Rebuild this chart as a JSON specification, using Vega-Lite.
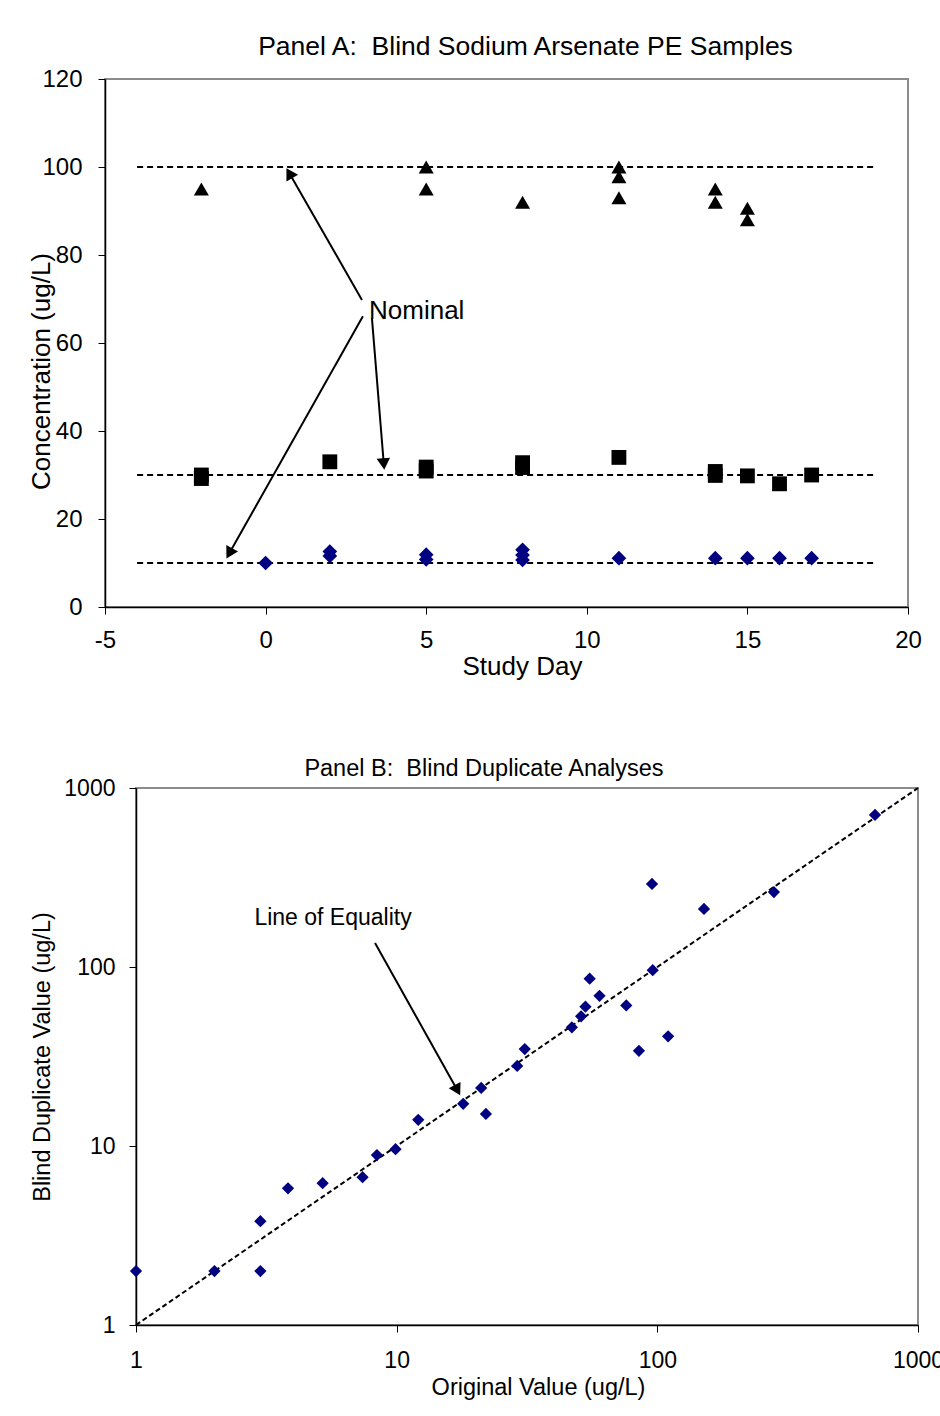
{
  "$schema": "https://vega.github.io/schema/vega-lite/v6.json",
  "background": "white",
  "padding": {"left": 27, "top": 32, "right": 0, "bottom": 0},
  "config": {
    "font": "Liberation Sans",
    "view": {"stroke": "#8c8c8c", "strokeWidth": 2},
    "axis": {"grid": false, "domainColor": "black", "domainWidth": 1.5, "tickColor": "black", "tickWidth": 1, "tickSize": 7, "labelColor": "black", "titleColor": "black", "titleFontWeight": "normal", "labelFont": "Liberation Sans", "titleFont": "Liberation Sans", "labelFlush": false, "labelOverlap": false},
    "title": {"fontWeight": "normal", "color": "black", "font": "Liberation Sans", "anchor": "middle"}
  },
  "datasets": {
    "pe": [
      {"day": -2, "conc": 95, "level": "High"},
      {"day": 5, "conc": 100, "level": "High"},
      {"day": 5, "conc": 95, "level": "High"},
      {"day": 8, "conc": 92, "level": "High"},
      {"day": 11, "conc": 100, "level": "High"},
      {"day": 11, "conc": 97.8, "level": "High"},
      {"day": 11, "conc": 93, "level": "High"},
      {"day": 14, "conc": 95, "level": "High"},
      {"day": 14, "conc": 92, "level": "High"},
      {"day": 15, "conc": 90.6, "level": "High"},
      {"day": 15, "conc": 88, "level": "High"},
      {"day": -2, "conc": 30, "level": "Mid"},
      {"day": -2, "conc": 29.2, "level": "Mid"},
      {"day": 2, "conc": 33, "level": "Mid"},
      {"day": 5, "conc": 31.8, "level": "Mid"},
      {"day": 5, "conc": 30.9, "level": "Mid"},
      {"day": 8, "conc": 32.8, "level": "Mid"},
      {"day": 8, "conc": 31.7, "level": "Mid"},
      {"day": 11, "conc": 34, "level": "Mid"},
      {"day": 14, "conc": 30.8, "level": "Mid"},
      {"day": 14, "conc": 29.9, "level": "Mid"},
      {"day": 15, "conc": 29.8, "level": "Mid"},
      {"day": 16, "conc": 28, "level": "Mid"},
      {"day": 17, "conc": 30, "level": "Mid"},
      {"day": 0, "conc": 10, "level": "Low"},
      {"day": 2, "conc": 12.6, "level": "Low"},
      {"day": 2, "conc": 11.6, "level": "Low"},
      {"day": 5, "conc": 11.9, "level": "Low"},
      {"day": 5, "conc": 10.8, "level": "Low"},
      {"day": 8, "conc": 13, "level": "Low"},
      {"day": 8, "conc": 11.8, "level": "Low"},
      {"day": 8, "conc": 10.7, "level": "Low"},
      {"day": 11, "conc": 11.1, "level": "Low"},
      {"day": 14, "conc": 11.1, "level": "Low"},
      {"day": 15, "conc": 11.1, "level": "Low"},
      {"day": 16, "conc": 11.1, "level": "Low"},
      {"day": 17, "conc": 11.1, "level": "Low"}
    ],
    "nominal": [
      {"x1": -4, "x2": 19, "nominal": 100},
      {"x1": -4, "x2": 19, "nominal": 30},
      {"x1": -4, "x2": 19, "nominal": 10}
    ],
    "arrowsA": [
      {"xs": 3.0, "ys": 69.8, "xe": 0.74, "ye": 98.6, "angle": 330},
      {"xs": 3.03, "ys": 66.1, "xe": -1.13, "ye": 12.2, "angle": 209.4},
      {"xs": 3.31, "ys": 65.7, "xe": 3.68, "ye": 32.5, "angle": 175.4}
    ],
    "labelA": [{"x": 3.22, "y": 67.3, "text": "Nominal"}],
    "dup": [
      {"orig": 1, "dup": 2.0},
      {"orig": 2.0, "dup": 2.0},
      {"orig": 3.0, "dup": 2.0},
      {"orig": 3.0, "dup": 3.8},
      {"orig": 3.83, "dup": 5.8},
      {"orig": 5.2, "dup": 6.2},
      {"orig": 7.4, "dup": 6.7},
      {"orig": 8.4, "dup": 8.9},
      {"orig": 9.9, "dup": 9.6},
      {"orig": 12.1, "dup": 14.0},
      {"orig": 18, "dup": 17.2},
      {"orig": 21.1, "dup": 21.1},
      {"orig": 22, "dup": 15.1},
      {"orig": 29, "dup": 28},
      {"orig": 31, "dup": 34.8},
      {"orig": 47, "dup": 46},
      {"orig": 51, "dup": 53},
      {"orig": 53, "dup": 60},
      {"orig": 55, "dup": 86},
      {"orig": 60, "dup": 69},
      {"orig": 76, "dup": 61},
      {"orig": 85, "dup": 34},
      {"orig": 95.4, "dup": 291},
      {"orig": 96, "dup": 96},
      {"orig": 110, "dup": 41},
      {"orig": 151, "dup": 211},
      {"orig": 280, "dup": 262},
      {"orig": 684, "dup": 707}
    ],
    "equality": [{"x1": 1, "y1": 1, "x2": 1000, "y2": 1000}],
    "arrowB": [{"xs": 8.26, "ys": 136, "xe": 17.1, "ye": 20.5, "angle": 151.4}],
    "labelB": [{"x": 5.7, "y": 188, "text": "Line of Equality"}]
  },
  "vconcat": [
    {
      "width": 803,
      "height": 528,
      "title": {"text": "Panel A:\u00a0 Blind Sodium Arsenate PE Samples", "fontSize": 26.5, "offset": 7, "dx": 19},
      "layer": [
        {
          "data": {"name": "nominal"},
          "mark": {"type": "rule", "strokeDash": [6, 4], "strokeWidth": 2, "color": "black"},
          "encoding": {
            "x": {"field": "x1", "type": "quantitative", "scale": {"domain": [-5, 20], "nice": false, "zero": false},
              "axis": {"title": "Study Day", "values": [-5, 0, 5, 10, 15, 20], "labelExpr": "'' + datum.value", "labelFontSize": 24, "titleFontSize": 26, "labelPadding": 14, "titlePadding": 1, "titleX": 417}},
            "x2": {"field": "x2"},
            "y": {"field": "nominal", "type": "quantitative", "scale": {"domain": [0, 120], "nice": false},
              "axis": {"title": "Concentration (ug/L)", "values": [0, 20, 40, 60, 80, 100, 120], "labelFontSize": 24, "titleFontSize": 26, "labelPadding": 16, "titlePadding": -13, "titleY": 292}}
          }
        },
        {
          "data": {"name": "pe"},
          "mark": {"type": "point", "filled": true, "opacity": 1, "strokeWidth": 0},
          "encoding": {
            "x": {"field": "day", "type": "quantitative"},
            "y": {"field": "conc", "type": "quantitative"},
            "shape": {"field": "level", "type": "nominal", "scale": {"domain": ["High", "Mid", "Low"], "range": ["triangle-up", "square", "diamond"]}, "legend": null},
            "color": {"field": "level", "type": "nominal", "scale": {"domain": ["High", "Mid", "Low"], "range": ["#000000", "#000000", "#000080"]}, "legend": null},
            "size": {"field": "level", "type": "nominal", "scale": {"domain": ["High", "Mid", "Low"], "range": [225, 216, 210]}, "legend": null}
          }
        },
        {
          "data": {"name": "arrowsA"},
          "mark": {"type": "rule", "strokeWidth": 2, "color": "black"},
          "encoding": {
            "x": {"field": "xs", "type": "quantitative"},
            "y": {"field": "ys", "type": "quantitative"},
            "x2": {"field": "xe"},
            "y2": {"field": "ye"}
          }
        },
        {
          "data": {"name": "arrowsA"},
          "mark": {"type": "point", "shape": "triangle-up", "filled": true, "opacity": 1, "size": 180, "color": "black", "strokeWidth": 0},
          "encoding": {
            "x": {"field": "xe", "type": "quantitative"},
            "y": {"field": "ye", "type": "quantitative"},
            "angle": {"field": "angle", "type": "quantitative", "scale": null}
          }
        },
        {
          "data": {"name": "labelA"},
          "mark": {"type": "text", "fontSize": 26, "align": "left", "baseline": "middle", "color": "black", "font": "Liberation Sans"},
          "encoding": {
            "x": {"field": "x", "type": "quantitative"},
            "y": {"field": "y", "type": "quantitative"},
            "text": {"field": "text"}
          }
        }
      ]
    },
    {
      "spacing": -77,
      "hconcat": [
        {
          "width": 1,
          "height": 1,
          "view": {"stroke": null},
          "data": {"values": []},
          "mark": "point"
        },
        {
          "width": 782,
          "height": 537,
          "title": {"text": "Panel B:\u00a0 Blind Duplicate Analyses", "fontSize": 23.5, "offset": -3, "dx": -43},
          "layer": [
            {
              "data": {"name": "equality"},
              "mark": {"type": "rule", "strokeDash": [5, 3], "strokeWidth": 2, "color": "black"},
              "encoding": {
                "x": {"field": "x1", "type": "quantitative", "scale": {"type": "log", "domain": [1, 1000], "nice": false},
                  "axis": {"title": "Original Value (ug/L)", "values": [1, 10, 100, 1000], "format": "d", "labelFontSize": 23, "titleFontSize": 23.5, "labelPadding": 17, "titlePadding": 3, "titleX": 402}},
                "y": {"field": "y1", "type": "quantitative", "scale": {"type": "log", "domain": [1, 1000], "nice": false},
                  "axis": {"title": "Blind Duplicate Value (ug/L)", "values": [1, 10, 100, 1000], "format": "d", "labelFontSize": 23, "titleFontSize": 23.5, "labelPadding": 14, "titlePadding": 9.5}},
                "x2": {"field": "x2"},
                "y2": {"field": "y2"}
              }
            },
            {
              "data": {"name": "dup"},
              "mark": {"type": "point", "shape": "diamond", "filled": true, "opacity": 1, "size": 150, "color": "#000080", "strokeWidth": 0},
              "encoding": {
                "x": {"field": "orig", "type": "quantitative"},
                "y": {"field": "dup", "type": "quantitative"}
              }
            },
            {
              "data": {"name": "arrowB"},
              "mark": {"type": "rule", "strokeWidth": 2, "color": "black"},
              "encoding": {
                "x": {"field": "xs", "type": "quantitative"},
                "y": {"field": "ys", "type": "quantitative"},
                "x2": {"field": "xe"},
                "y2": {"field": "ye"}
              }
            },
            {
              "data": {"name": "arrowB"},
              "mark": {"type": "point", "shape": "triangle-up", "filled": true, "opacity": 1, "size": 180, "color": "black", "strokeWidth": 0},
              "encoding": {
                "x": {"field": "xe", "type": "quantitative"},
                "y": {"field": "ye", "type": "quantitative"},
                "angle": {"field": "angle", "type": "quantitative", "scale": null}
              }
            },
            {
              "data": {"name": "labelB"},
              "mark": {"type": "text", "fontSize": 23, "align": "center", "baseline": "middle", "color": "black", "font": "Liberation Sans"},
              "encoding": {
                "x": {"field": "x", "type": "quantitative"},
                "y": {"field": "y", "type": "quantitative"},
                "text": {"field": "text"}
              }
            }
          ]
        }
      ]
    }
  ],
  "spacing": 75
}
